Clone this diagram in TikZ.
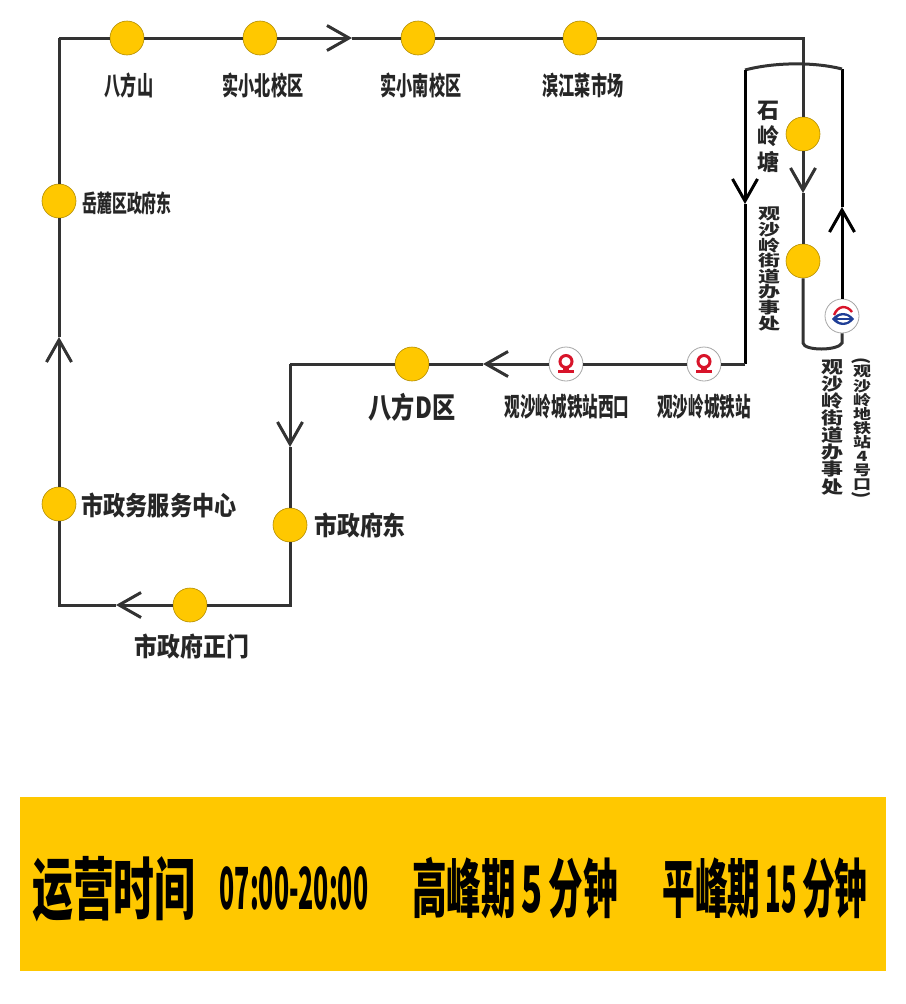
\documentclass[tikz,border=0pt]{standalone}
\usepackage{fontspec}
\setmainfont{Noto Sans CJK SC}
\usetikzlibrary{arrows.meta}
\definecolor{stopfill}{HTML}{FFC800}
\definecolor{routeline}{HTML}{333333}
\definecolor{railred}{HTML}{D8142A}
\definecolor{metroblue}{HTML}{1F3E96}
\tikzset{
  route/.style={draw=routeline,line width=3pt},
  tip/.style={-{Straight Barb[length=22pt,width=25pt,line width=3pt]}},
  stop/.style={circle,fill=stopfill,draw=stopfill!70!black,line width=.6pt,minimum size=34pt,inner sep=0pt},
  logostop/.style={circle,fill=white,draw=black!35,line width=.8pt,minimum size=34pt,inner sep=0pt},
  lbl/.style={font=\bfseries\fontsize{#1}{#1}\selectfont,inner sep=0pt,text=black!85},
  lbl/.default=26,
  vlbl/.style={font=\bfseries\fontsize{#1}{#1}\selectfont,inner sep=0pt,align=center,text=black!85},
  raillogo/.pic={
    \draw[railred,line width=3pt] (0,-2.5) circle[radius=6];
    \fill[railred] (-3,2) rectangle (3,6);
    \fill[railred] (-8,6) rectangle (8,9);
  },
  metrologo/.pic={
    \fill[metroblue] (-10,3) .. controls (-4,-5) and (6,-5) .. (12,3) .. controls (6,11) and (-4,11) .. (-10,3);
    \fill[white] (-6,3) .. controls (-2,-2) and (4,-2) .. (9,3) .. controls (4,8) and (-2,8) .. (-6,3);
    \fill[metroblue] (-6,2.2) rectangle (11,3.8);
    \draw[railred,line width=2.4pt] (-8,-1) .. controls (-4,-11) and (5,-11) .. (10,-4);
  }
}
\begin{document}
\begin{tikzpicture}[x=1pt,y=-1pt]
  \useasboundingbox (0,0) rectangle (905,1004);

  % 拐点
  \coordinate (lefttop) at (59,38);
  \coordinate (righttop) at (803,38);
  \coordinate (loopbl) at (803,343);
  \coordinate (loopbr) at (842,343);
  \coordinate (looptr) at (842,69);
  \coordinate (looptl) at (745,70);
  \coordinate (midright) at (745,364);
  \coordinate (midleft) at (290,364);
  \coordinate (lowright) at (290,605);
  \coordinate (lowleft) at (59,605);

  % 箭头位置
  \coordinate (tiptop) at (352,38);
  \coordinate (tipinner) at (803,193);
  \coordinate (tipouter) at (842,207);
  \coordinate (tipback) at (745,204);
  \coordinate (tipmid) at (483,364);
  \coordinate (tipdown) at (290,447);
  \coordinate (tiplow) at (116,605);
  \coordinate (tipleft) at (59,337);

  % 站点
  \node[stop] (bafangshan) at (127,38) {};
  \node[stop] (shixiaobei) at (260,38) {};
  \node[stop] (shixiaonan) at (418,38) {};
  \node[stop] (binjiang) at (580,38) {};
  \node[stop] (shilingtang) at (803,134) {};
  \node[stop] (jiedao) at (803,261) {};
  \node[logostop] (metro) at (842,316) {};
  \node[logostop] (railwest) at (566,364) {};
  \node[logostop] (rail) at (704,364) {};
  \node[stop] (bafangd) at (412,364) {};
  \node[stop] (zhengfudong) at (290,525) {};
  \node[stop] (zhengmen) at (190,605) {};
  \node[stop] (fuwu) at (59,504) {};
  \node[stop] (yuelu) at (59,201) {};

  % 线路
  \draw[route] (lefttop) -- (bafangshan);
  \draw[route] (bafangshan) -- (shixiaobei);
  \draw[route,tip] (shixiaobei) -- (tiptop);
  \draw[route] (tiptop) -- (shixiaonan);
  \draw[route] (shixiaonan) -- (binjiang);
  \draw[route] (binjiang) -- (righttop) -- (shilingtang);
  \draw[route,tip] (shilingtang) -- (tipinner);
  \draw[route] (tipinner) -- (jiedao);
  \draw[route] (jiedao) -- (loopbl) .. controls (804,351) and (838,351) .. (loopbr) -- (metro);
  \draw[route,draw=black,tip] (metro) -- (tipouter);
  \draw[route,draw=black] (tipouter) -- (looptr);
  \draw[route] (looptr) .. controls (815,62) and (775,62) .. (looptl);
  \draw[route,draw=black,tip] (looptl) -- (tipback);
  \draw[route,draw=black] (tipback) -- (midright);
  \draw[route] (midright) -- (rail);
  \draw[route] (rail) -- (railwest);
  \draw[route,tip] (railwest) -- (tipmid);
  \draw[route] (tipmid) -- (bafangd);
  \draw[route] (bafangd) -- (midleft);
  \draw[route,tip] (midleft) -- (tipdown);
  \draw[route] (tipdown) -- (zhengfudong);
  \draw[route] (zhengfudong) -- (lowright) -- (zhengmen);
  \draw[route,tip] (zhengmen) -- (tiplow);
  \draw[route] (tiplow) -- (lowleft) -- (fuwu);
  \draw[route,tip] (fuwu) -- (tipleft);
  \draw[route] (tipleft) -- (yuelu);
  \draw[route] (yuelu) -- (lefttop);

  % 图标
  \pic at (rail) {raillogo};
  \pic at (railwest) {raillogo};
  \pic at (metro) {metrologo};

  % 站名
  \node[lbl,xscale=.62] (lbafangshan) at (129,85) {八方山};
  \node[lbl,xscale=.62] (lshixiaobei) at (263,85) {实小北校区};
  \node[lbl,xscale=.62] (lshixiaonan) at (421,85) {实小南校区};
  \node[lbl,xscale=.62] (lbinjiang) at (583,85) {滨江菜市场};
  \node[lbl=24,xscale=.62] (lyuelu) at (127,203) {岳麓区政府东};
  \node[lbl,xscale=.85] (lfuwu) at (159,505) {市政务服务中心};
  \node[lbl,xscale=.88] (lzhengfudong) at (360,526) {市政府东};
  \node[lbl,xscale=.88] (lzhengmen) at (192,647) {市政府正门};
  \node[lbl=29,xscale=.8] (lbafangd) at (412,407) {八方D区};
  \node[lbl,xscale=.6] (lrailwest) at (567,407) {观沙岭城铁站西口};
  \node[lbl,xscale=.6] (lrail) at (704,407) {观沙岭城铁站};

  % 竖排站名
  \node[vlbl=22] (lshilingtang) at (768,137) {石\\[4pt]岭\\[4pt]塘};
  \node[vlbl=22,yscale=.71] (ljiedao) at (769,269) {观\\沙\\岭\\街\\道\\办\\事\\处};
  \node[vlbl=22,yscale=.78] (ljiedaob) at (832,427) {观\\沙\\岭\\街\\道\\办\\事\\处};
  \node[vlbl=18,yscale=.78] (lmetro) at (862,428) {观\\沙\\岭\\地\\铁\\站\\4\\号\\口};
  \node[lbl=18,rotate=-90] (lparenl) at (861,361) {(};
  \node[lbl=18,rotate=-90] (lparenr) at (861,495) {)};

  % 运营信息
  \node[fill=stopfill,minimum width=866pt,minimum height=174pt,inner sep=0pt] (banner) at (453,884) {};
  \node[lbl=68,text=black,xscale=.6] (hours) at (114,889) {运营时间};
  \node[lbl=58,text=black,xscale=.43] (hourtime) at (294,888) {07:00-20:00};
  \node[lbl=64,text=black,xscale=.54] (peak) at (515,888) {高峰期\,5\,分钟};
  \node[lbl=64,text=black,xscale=.51] (offpeak) at (765,888) {平峰期\,\scalebox{.78}[1]{15}\,分钟};
\end{tikzpicture}
\end{document}
